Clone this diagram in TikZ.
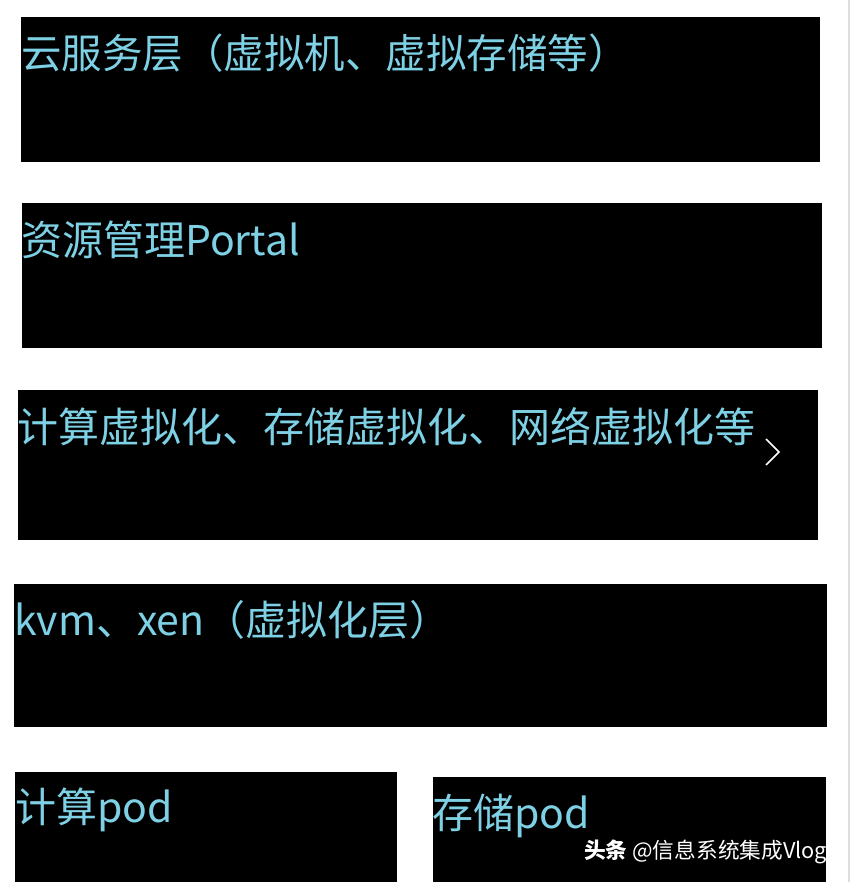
\documentclass[tikz,border=0pt]{standalone}
\usepackage{fontspec}
\setmainfont{Noto Sans CJK SC}
\newfontfamily\cjkfont{Noto Sans CJK SC}
\definecolor{labelcyan}{RGB}{126,208,228}
\definecolor{edgegray}{RGB}{222,222,222}
\tikzset{
  layerbox/.style={fill=black, draw=none, anchor=north west, inner sep=0pt, outer sep=0pt},
  layertext/.style={text=labelcyan, font=\cjkfont\fontsize{41}{41}\selectfont, anchor=base west, inner sep=0pt},
  marktext/.style={text=white, font=\cjkfont\fontsize{21.7}{22}\selectfont, anchor=base west, inner sep=0pt}
}
\begin{document}
\begin{tikzpicture}[x=1pt,y=-1pt]
\useasboundingbox[fill=white] (0,0) rectangle (852,882);
\draw[edgegray, line width=1.2pt] (849,0) -- (849,882);
% boxes
\node[layerbox, minimum width=799pt, minimum height=145pt] (b1) at (21,17) {};
\node[layerbox, minimum width=800pt, minimum height=145pt] (b2) at (22,203) {};
\node[layerbox, minimum width=800pt, minimum height=150pt] (b3) at (18,390) {};
\node[layerbox, minimum width=813pt, minimum height=143pt] (b4) at (14,584) {};
\node[layerbox, minimum width=382pt, minimum height=110pt] (b5) at (15,772) {};
\node[layerbox, minimum width=393pt, minimum height=105pt] (b6) at (433,777) {};
% texts
\node[layertext, font=\cjkfont\fontsize{40.5}{40.5}\selectfont] (t1) at (21,69) {云服务层（虚拟机、虚拟存储等）};
\node[layertext] (t2) at (21,256) {资源管理Portal};
\node[layertext] (t3) at (17,442) {计算虚拟化、存储虚拟化、网络虚拟化等};
\node[layertext] (t4) at (14,635) {kvm、xen（虚拟化层）};
\node[layertext] (t5) at (15,822) {计算pod};
\node[layertext] (t6) at (432,828) {存储pod};
% chevron
\coordinate (c1) at (766,439);
\coordinate (c2) at (779,452);
\coordinate (c3) at (766,465);
\draw[white, line width=1.6pt] (c1) -- (c2) -- (c3);
% watermark
\node[marktext] (wm) at (584,858) {\textbf{头条} @信息系统集成Vlog};
\end{tikzpicture}
\end{document}
